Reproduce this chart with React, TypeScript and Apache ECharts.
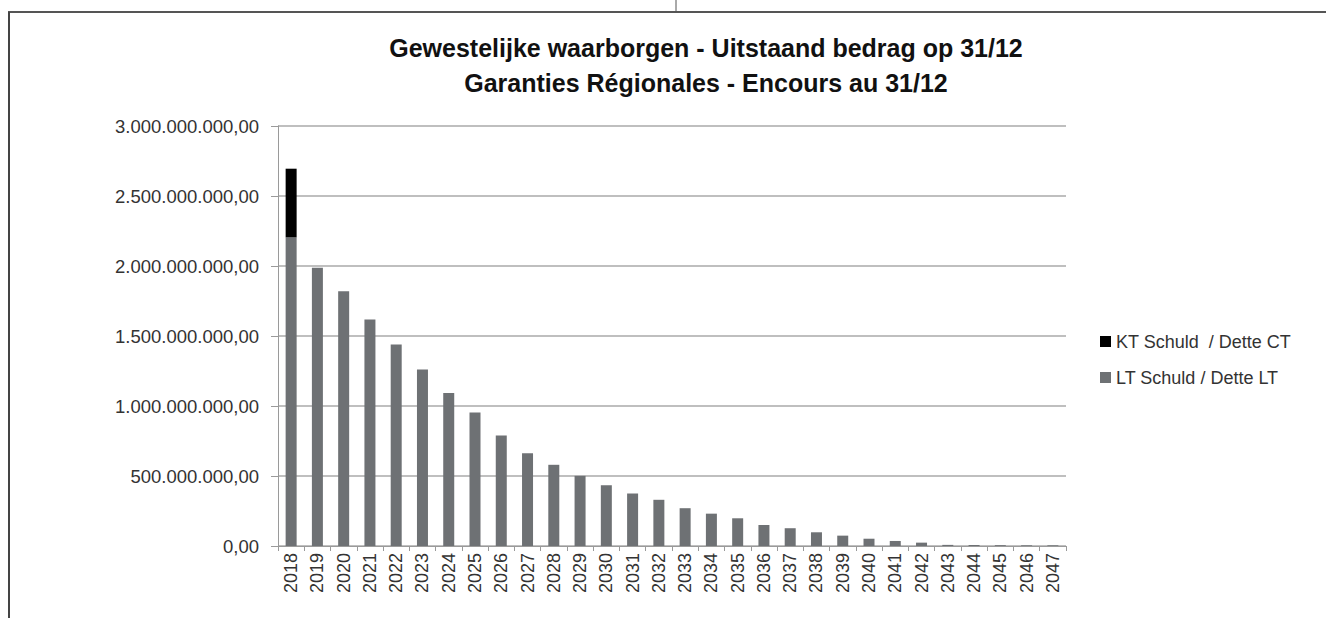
import React, { useEffect, useRef } from "react";
import * as echarts from "echarts";

const titleLine1 = "Gewestelijke waarborgen - Uitstaand bedrag op 31/12";
const titleLine2 = "Garanties Régionales - Encours au 31/12";

const years = [
  "2018", "2019", "2020", "2021", "2022", "2023", "2024", "2025", "2026", "2027",
  "2028", "2029", "2030", "2031", "2032", "2033", "2034", "2035", "2036", "2037",
  "2038", "2039", "2040", "2041", "2042", "2043", "2044", "2045", "2046", "2047",
];

const ktName = "KT Schuld  / Dette CT";
const ltName = "LT Schuld / Dette LT";

// values in euros
const ltValues = [
  2205e6, 1988e6, 1820e6, 1618e6, 1439e6, 1260e6, 1093e6, 954e6, 790e6, 663e6,
  580e6, 501e6, 434e6, 375e6, 330e6, 270e6, 231e6, 198e6, 150e6, 127e6,
  98e6, 74e6, 52e6, 36e6, 24e6, 8e6, 7e6, 6e6, 5e6, 5e6,
];

const ktValues: (number | null)[] = [
  490e6, null, null, null, null, null, null, null, null, null,
  null, null, null, null, null, null, null, null, null, null,
  null, null, null, null, null, null, null, null, null, null,
];

const yMax = 3e9;
const yInterval = 5e8;

function formatEuro(v: number): string {
  const intPart = Math.round(v).toString().replace(/\B(?=(\d{3})+(?!\d))/g, ".");
  return intPart + ",00";
}

export default function App() {
  const ref = useRef<HTMLDivElement>(null);

  useEffect(() => {
    if (!ref.current) return;
    const chart = echarts.init(ref.current, undefined, { renderer: "svg" });
    const font = "'Liberation Sans', Arial, sans-serif";
    chart.setOption({
      animation: false,
      backgroundColor: "#ffffff",
      textStyle: { fontFamily: font },
      title: [
        {
          text: titleLine1,
          left: 706,
          textAlign: "center",
          top: 34,
          padding: 0,
          textStyle: { fontFamily: font, fontSize: 25, fontWeight: "bold", color: "#111111", lineHeight: 27 },
        },
        {
          text: titleLine2,
          left: 706,
          textAlign: "center",
          top: 69,
          padding: 0,
          textStyle: { fontFamily: font, fontSize: 25, fontWeight: "bold", color: "#111111", lineHeight: 27 },
        },
      ],
      legend: {
        orient: "vertical",
        left: 1095,
        top: 326,
        itemWidth: 11,
        itemHeight: 11,
        itemGap: 15,
        icon: "rect",
        data: [ktName, ltName],
        textStyle: { fontFamily: font, fontSize: 18, color: "#333333", lineHeight: 21 },
      },
      grid: { left: 278, right: 260, top: 126, bottom: 72, containLabel: false },
      xAxis: {
        type: "category",
        data: years,
        axisLine: { show: true, lineStyle: { color: "#9a9a9a", width: 1 } },
        axisTick: { show: true, interval: 0, length: 5, lineStyle: { color: "#9a9a9a" } },
        axisLabel: {
          interval: 0,
          rotate: 90,
          margin: 7,
          fontFamily: font,
          fontSize: 18,
          color: "#333333",
        },
      },
      yAxis: {
        type: "value",
        min: 0,
        max: yMax,
        interval: yInterval,
        axisLine: { show: true, lineStyle: { color: "#9a9a9a", width: 1 } },
        axisTick: { show: true, length: 7, lineStyle: { color: "#9a9a9a" } },
        splitLine: { show: true, lineStyle: { color: "#aaaaaa", width: 1.5 } },
        axisLabel: {
          margin: 19,
          fontFamily: font,
          fontSize: 18.5,
          color: "#333333",
          formatter: (v: number) => formatEuro(v),
        },
      },
      series: [
        {
          name: ltName,
          type: "bar",
          stack: "total",
          barWidth: 11,
          data: ltValues,
          itemStyle: { color: "#6e7174" },
        },
        {
          name: ktName,
          type: "bar",
          stack: "total",
          barWidth: 11,
          data: ktValues,
          itemStyle: { color: "#000000" },
        },
      ],
      graphic: [
        { type: "line", shape: { x1: 8, y1: 12, x2: 1326, y2: 12 }, style: { stroke: "#555555", lineWidth: 2 } },
        { type: "line", shape: { x1: 9, y1: 12, x2: 9, y2: 618 }, style: { stroke: "#444444", lineWidth: 2 } },
        { type: "line", shape: { x1: 676, y1: 0, x2: 676, y2: 12 }, style: { stroke: "#555555", lineWidth: 1 } },
      ],
    });
    return () => chart.dispose();
  }, []);

  return (
    <div
      ref={ref}
      style={{ position: "absolute", left: 0, top: 0, width: 1326, height: 618 }}
    />
  );
}
